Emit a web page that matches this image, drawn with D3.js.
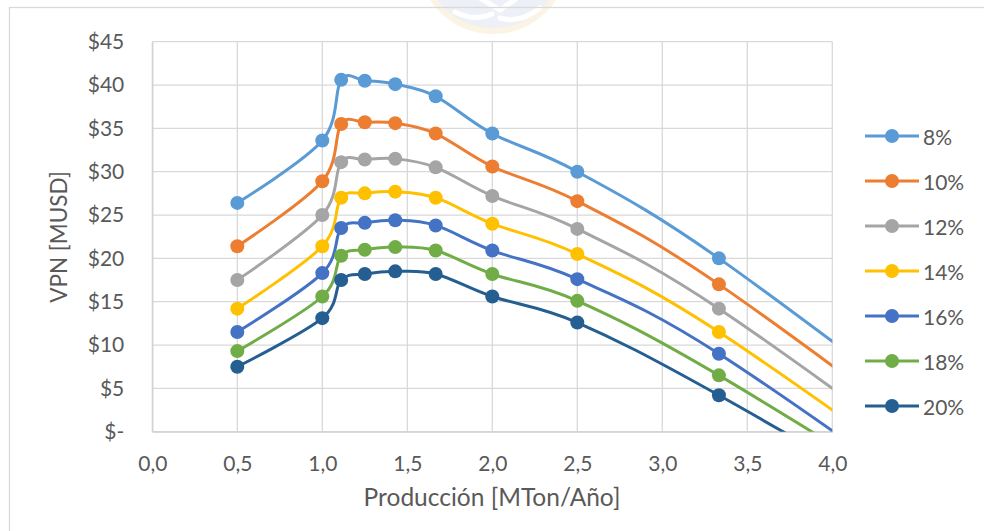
<!DOCTYPE html>
<html>
<head>
<meta charset="utf-8">
<script src="https://cdn.jsdelivr.net/npm/d3@7"></script>
<style>
  html, body { margin: 0; padding: 0; background: #ffffff; }
  svg { display: block; }
  text { font-family: Lato, "Open Sans", sans-serif; fill: #595959; }
</style>
</head>
<body>
<svg id="chart" width="984" height="531"></svg>
<script>
// Production rate (MTon/año) at which each NPV was evaluated
const produccion = [0.5, 1.0, 1.111, 1.25, 1.429, 1.667, 2.0, 2.5, 3.333, 5.0];

// NPV (MUSD) per discount rate
const tasa08 = [26.4, 33.6, 40.6, 40.5, 40.1, 38.7, 34.4, 30.0, 20.0, -4.4];
const tasa10 = [21.4, 28.9, 35.5, 35.7, 35.6, 34.4, 30.6, 26.6, 17.0, -7.0];
const tasa12 = [17.5, 25.0, 31.1, 31.4, 31.5, 30.5, 27.2, 23.4, 14.2, -9.3];
const tasa14 = [14.2, 21.4, 27.0, 27.5, 27.7, 27.0, 24.0, 20.5, 11.5, -11.5];
const tasa16 = [11.5, 18.3, 23.5, 24.1, 24.4, 23.8, 20.9, 17.6, 9.0, -13.8];
const tasa18 = [9.3, 15.6, 20.3, 21.0, 21.3, 20.9, 18.2, 15.1, 6.5, -13.7];
const tasa20 = [7.5, 13.1, 17.5, 18.2, 18.5, 18.2, 15.6, 12.6, 4.2, -14.7];

const seriesNames = ["8%", "10%", "12%", "14%", "16%", "18%", "20%"];
const seriesValues = [tasa08, tasa10, tasa12, tasa14, tasa16, tasa18, tasa20];
const seriesColors = ["#5B9BD5", "#ED7D31", "#A5A5A5", "#FFC000", "#4472C4", "#70AD47", "#255E91"];

const xTicks = [0, 0.5, 1.0, 1.5, 2.0, 2.5, 3.0, 3.5, 4.0];
const yTicks = [0, 5, 10, 15, 20, 25, 30, 35, 40, 45];

const svg = d3.select("#chart");

// Faint emblem behind the top of the chart
const emblem = svg.append("g").attr("opacity", 0.3);
emblem.append("circle").attr("cx", 493).attr("cy", -41).attr("r", 72)
  .attr("fill", "#c5d3e6").attr("stroke", "#f3d9a6").attr("stroke-width", 6);
emblem.append("path").attr("d", "M455,12 Q475,22 492,14 M500,18 Q520,24 540,8 M480,-2 L500,10 L520,-4")
  .attr("fill", "none").attr("stroke", "#ffffff").attr("stroke-width", 5).attr("stroke-linecap", "round");

// Outer chart frame
svg.append("rect").attr("x", 9.5).attr("y", 7.5).attr("width", 990).attr("height", 540)
  .attr("fill", "none").attr("stroke", "#d9d9d9").attr("stroke-width", 1.3);

const plotLeft = 152.3, plotRight = 832.3, plotTop = 41.7, plotBottom = 431.7;
const x = d3.scaleLinear().domain([0, 4]).range([plotLeft, plotRight]);
const y = d3.scaleLinear().domain([0, 45]).range([plotBottom, plotTop]);

// Gridlines
const grid = svg.append("g");
grid.selectAll("line.h").data(yTicks).join("line")
  .attr("x1", plotLeft).attr("x2", plotRight)
  .attr("y1", d => y(d)).attr("y2", d => y(d))
  .attr("stroke", "#d9d9d9").attr("stroke-width", 1.3);
grid.selectAll("line.v").data(xTicks).join("line")
  .attr("y1", plotTop).attr("y2", plotBottom)
  .attr("x1", d => x(d)).attr("x2", d => x(d))
  .attr("stroke", "#d9d9d9").attr("stroke-width", 1.3);

// Axes (labels only, lines come from the grid)
const xAxis = d3.axisBottom(x).tickValues(xTicks).tickSize(0).tickPadding(24)
  .tickFormat(d => d3.format(".1f")(d).replace(".", ","));
svg.append("g").attr("transform", `translate(0,${plotBottom})`).call(xAxis)
  .call(g => g.select(".domain").attr("stroke", "#d0d0d0").attr("stroke-width", 1.3))
  .selectAll("text").style("font-size", "21px").attr("fill", "#595959");

const yAxis = d3.axisLeft(y).tickValues(yTicks).tickSize(0).tickPadding(28)
  .tickFormat(d => d === 0 ? "$-" : "$" + d);
svg.append("g").attr("transform", `translate(${plotLeft},0)`).call(yAxis)
  .call(g => g.select(".domain").attr("stroke", "#d0d0d0").attr("stroke-width", 1.3))
  .selectAll("text").style("font-size", "21px").attr("fill", "#595959");

// Axis titles
svg.append("text").attr("x", 492).attr("y", 500).attr("text-anchor", "middle")
  .attr("dominant-baseline", "middle").style("font-size", "24.5px")
  .text("Producción [MTon/Año]");
svg.append("text").attr("transform", "translate(61,237) rotate(-90)")
  .attr("text-anchor", "middle").attr("dominant-baseline", "middle").style("font-size", "22.5px")
  .text("VPN [MUSD]");

// Series, clipped to the plot area
svg.append("defs").append("clipPath").attr("id", "plot-clip")
  .append("rect").attr("x", plotLeft).attr("y", plotTop - 10)
  .attr("width", plotRight - plotLeft).attr("height", plotBottom - plotTop + 10);

const line = d3.line()
  .x((d, i) => x(produccion[i]))
  .y(d => y(d))
  .curve(d3.curveCardinal.tension(0));

const plot = svg.append("g").attr("clip-path", "url(#plot-clip)");
seriesValues.forEach((vals, s) => {
  plot.append("path").datum(vals).attr("d", line)
    .attr("fill", "none").attr("stroke", seriesColors[s]).attr("stroke-width", 3)
    .attr("stroke-linejoin", "round");
  plot.selectAll(null).data(vals).join("circle")
    .attr("cx", (d, i) => x(produccion[i])).attr("cy", d => y(d)).attr("r", 7)
    .attr("fill", seriesColors[s]);
});

// Legend
const legend = svg.append("g");
seriesNames.forEach((name, s) => {
  const ly = 136 + s * 45;
  legend.append("line").attr("x1", 865).attr("x2", 919).attr("y1", ly).attr("y2", ly)
    .attr("stroke", seriesColors[s]).attr("stroke-width", 3);
  legend.append("circle").attr("cx", 892).attr("cy", ly).attr("r", 7).attr("fill", seriesColors[s]);
  legend.append("text").attr("x", 923).attr("y", ly).attr("dominant-baseline", "central")
    .style("font-size", "21px").text(name);
});
</script>
</body>
</html>
